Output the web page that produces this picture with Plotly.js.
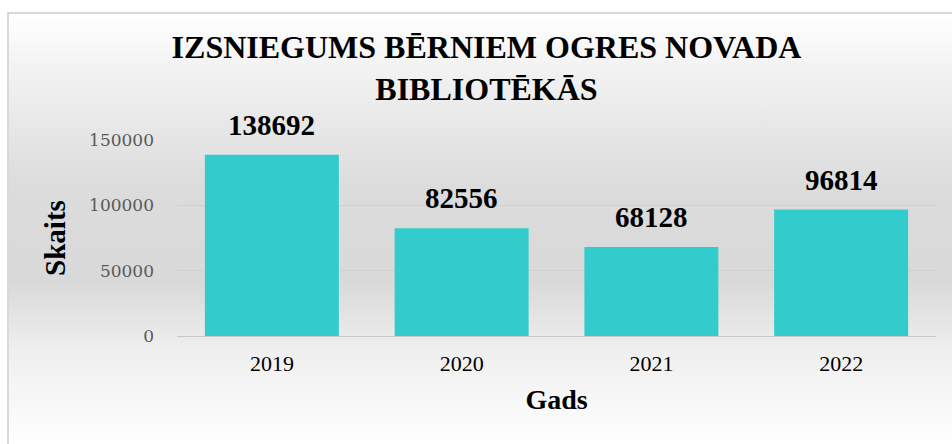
<!DOCTYPE html>
<html>
<head>
<meta charset="utf-8">
<script src="https://cdn.plot.ly/plotly-3.0.1.min.js"></script>
<style>
  html, body { margin: 0; padding: 0; background: #ffffff; }
  #bg {
    position: absolute; left: 7px; top: 12px; width: 945px; height: 432px;
    border-left: 2px solid #d9d9d9; border-top: 2px solid #d9d9d9;
    background: linear-gradient(to bottom, #ffffff 0%, #f3f3f3 12%, #dcdcdc 40%, #d9d9d9 62%, #efefef 78%, #ffffff 100%);
  }
  #chart { position: absolute; left: 0; top: 0; width: 952px; height: 444px; }
</style>
</head>
<body>
<div id="bg"></div>
<div id="chart"></div>
<script>
const categories = ['2019', '2020', '2021', '2022'];
const values = [138692, 82556, 68128, 96814];
const yTicks = [0, 50000, 100000, 150000];
const chartTitle = 'IZSNIEGUMS BĒRNIEM OGRES NOVADA<br>BIBLIOTĒKĀS';
const xTitle = 'Gads';
const yTitle = 'Skaits';

const serif = '"Liberation Serif", "Times New Roman", serif';

const trace = {
  type: 'bar',
  x: categories,
  y: values,
  marker: { color: '#33cccc', line: { width: 0 } },
  hoverinfo: 'skip'
};

// category axis: annotation x given as the category index
const annotations = categories.map((c, i) => ({
  x: i, y: values[i], xref: 'x', yref: 'y',
  text: '<b>' + values[i] + '</b>',
  showarrow: false, yanchor: 'bottom', yshift: 12,
  font: { family: serif, size: 29, color: '#000000' }
}));

const layout = {
  width: 952, height: 444,
  paper_bgcolor: 'rgba(0,0,0,0)',
  plot_bgcolor: 'rgba(0,0,0,0)',
  margin: { l: 177, r: 16, t: 140, b: 108 },
  bargap: 0.294,
  showlegend: false,
  title: {
    text: '<b>' + chartTitle + '</b>',
    xref: 'container', x: 0.511, xanchor: 'center',
    yref: 'container', y: 1 - 58 / 444, yanchor: 'top',
    font: { family: serif, size: 32, color: '#000000' }
  },
  xaxis: {
    type: 'category',
    categoryorder: 'array', categoryarray: categories,
    range: [-0.5, categories.length - 0.5],
    autorange: false,
    showgrid: false, zeroline: false, showline: false,
    ticks: '', ticklabelstandoff: 12,
    tickfont: { family: serif, size: 22, color: '#000000' },
    title: { text: '<b>' + xTitle + '</b>', standoff: 14, font: { family: serif, size: 28, color: '#000000' } }
  },
  yaxis: {
    range: [0, 150000],
    autorange: false,
    tickvals: yTicks,
    ticktext: yTicks.map(String),
    showgrid: true, gridcolor: '#d0d0d0', gridwidth: 1,
    zeroline: true, zerolinecolor: '#c8c8c8', zerolinewidth: 1,
    showline: false, ticks: '', ticklabelstandoff: 22,
    tickfont: { family: '"DejaVu Serif", serif', size: 17, color: '#595959' },
    title: { text: '<b>' + yTitle + '</b>', standoff: 14, font: { family: serif, size: 29, color: '#000000' } }
  },
  annotations: annotations
};

Plotly.newPlot('chart', [trace], layout, { displayModeBar: false, staticPlot: true });
</script>
</body>
</html>
